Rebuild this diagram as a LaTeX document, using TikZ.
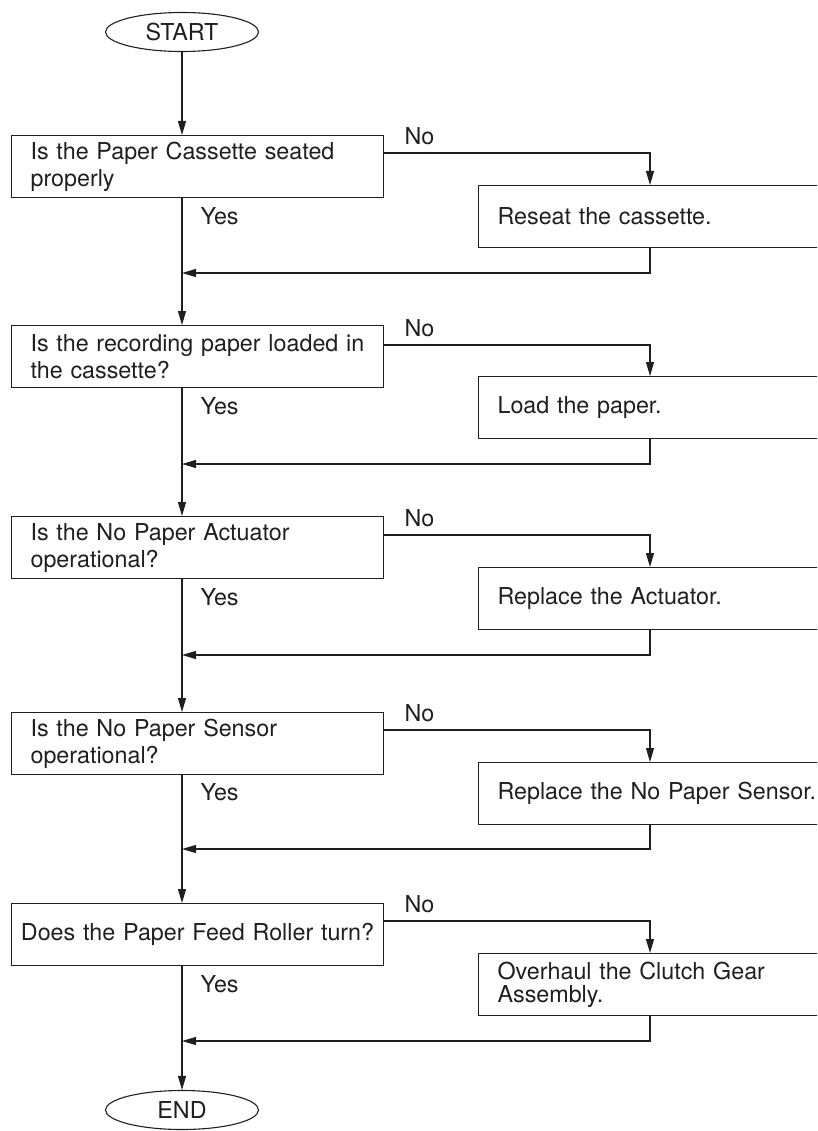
\documentclass[tikz,border=0pt]{standalone}
\usepackage{fontspec}
\setmainfont{TeX Gyre Heros}
\usetikzlibrary{shapes.geometric,arrows.meta}

\begin{document}
\begin{tikzpicture}[x=1pt,y=-1pt,line width=1.1pt,color=black!88,
  font=\fontsize{23.3}{27}\selectfont,
  >={Triangle[length=14pt,width=8pt]},
  qbox/.style={draw,anchor=north west,minimum height=62pt,text width=334pt,inner xsep=19pt,align=left},
  abox/.style={draw,anchor=north west,minimum height=62pt,text width=360pt,inner xsep=19pt,align=left},
  term/.style={draw,ellipse,minimum width=153pt,minimum height=39pt,inner sep=0pt},
  lbl/.style={anchor=west,inner sep=0pt}]
\useasboundingbox (0,0) rectangle (817,1131);
\clip (0,0) rectangle (817,1131);
% terminals
\node[term] (start) at (182,32) {START};
\node[term] (end) at (182,1110) {END};
% questions
\node[qbox] (q1) at (11,135) {Is the Paper Cassette seated\\properly};
\node[qbox] (q2) at (11,325) {Is the recording paper loaded in\\the cassette?};
\node[qbox] (q3) at (11,516) {Is the No Paper Actuator\\operational?};
\node[qbox] (q4) at (11,712) {Is the No Paper Sensor\\operational?};
\node[qbox,inner xsep=4pt,text width=364pt,align=center] (q5) at (11,903) {Does the Paper Feed Roller turn?};
% actions
\node[abox] (a1) at (478,185) {Reseat the cassette.};
\node[abox] (a2) at (478,376) {Load the paper.};
\node[abox] (a3) at (478,567) {Replace the Actuator.};
\node[abox] (a4) at (478,762) {Replace the No Paper Sensor.};
\node[abox,font=\fontsize{23.3}{23}\selectfont] (a5) at (478,953) {Overhaul the Clutch Gear\\Assembly.};
% branch corners
\coordinate (n1) at (650,153);  \coordinate (r1) at (650,273);
\coordinate (n2) at (650,345);  \coordinate (r2) at (650,464);
\coordinate (n3) at (650,535);  \coordinate (r3) at (650,655);
\coordinate (n4) at (650,730);  \coordinate (r4) at (650,849);
\coordinate (n5) at (650,921);  \coordinate (r5) at (650,1041);
% main line
\draw[->] (start) -- (q1.north -| start);
\draw[->] (q1.south -| start) -- (q2.north -| start);
\draw[->] (q2.south -| start) -- (q3.north -| start);
\draw[->] (q3.south -| start) -- (q4.north -| start);
\draw[->] (q4.south -| start) -- (q5.north -| start);
\draw[->] (q5.south -| start) -- (end);
% No branches
\draw[->] (q1.east |- n1) -- (n1) -- (a1.north -| n1);
\draw[->] (q2.east |- n2) -- (n2) -- (a2.north -| n2);
\draw[->] (q3.east |- n3) -- (n3) -- (a3.north -| n3);
\draw[->] (q4.east |- n4) -- (n4) -- (a4.north -| n4);
\draw[->] (q5.east |- n5) -- (n5) -- (a5.north -| n5);
% returns
\draw[->] (a1.south -| r1) -- (r1) -- (r1 -| start);
\draw[->] (a2.south -| r2) -- (r2) -- (r2 -| start);
\draw[->] (a3.south -| r3) -- (r3) -- (r3 -| start);
\draw[->] (a4.south -| r4) -- (r4) -- (r4 -| start);
\draw[->] (a5.south -| r5) -- (r5) -- (r5 -| start);
% labels
\node[lbl] (y1) at (200,216) {Yes};
\node[lbl] (y2) at (200,406) {Yes};
\node[lbl] (y3) at (200,597) {Yes};
\node[lbl] (y4) at (200,792) {Yes};
\node[lbl] (y5) at (200,984) {Yes};
\node[lbl] (m1) at (404,136) {No};
\node[lbl] (m2) at (404,328) {No};
\node[lbl] (m3) at (404,518) {No};
\node[lbl] (m4) at (404,713) {No};
\node[lbl] (m5) at (404,904) {No};
\end{tikzpicture}
\end{document}
